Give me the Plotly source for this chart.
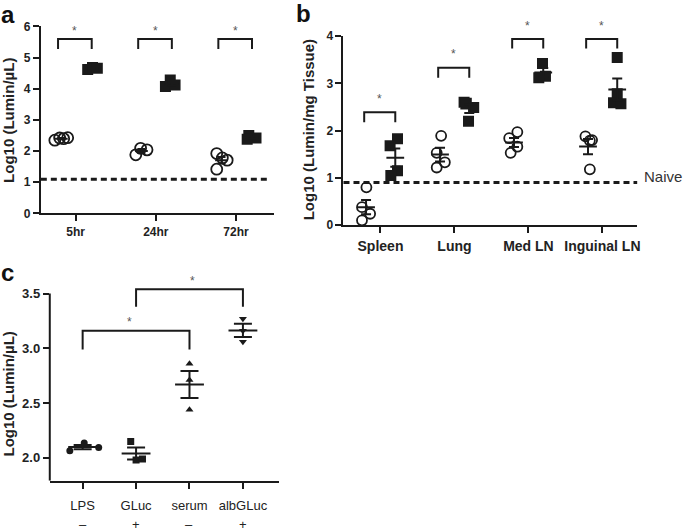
import numpy as np
import plotly.graph_objects as go

W, H = 685, 531
INK = "#1a1a1a"
FONT = "Liberation Sans"

# ---------------- data ----------------
# panel a
a_times = ["5hr", "24hr", "72hr"]
a_open = [[2.35, 2.42, 2.40, 2.43], [1.88, 2.09, 2.04], [1.42, 1.92, 1.78, 1.71]]
a_filled = [[4.62, 4.68, 4.66], [4.07, 4.28, 4.12], [2.50, 2.42, 2.38]]
a_naive = 1.1
a_yticks = [0, 1, 2, 3, 4, 5, 6]
a_br_bottom = [5.28, 5.28, 5.28]
a_br_top = [5.6, 5.6, 5.6]
a_star = [5.85, 5.85, 5.85]

# panel b
b_tissues = ["Spleen", "Lung", "Med LN", "Inguinal LN"]
b_open = [[0.80, 0.38, 0.24, 0.10], [1.89, 1.53, 1.33, 1.22],
          [1.97, 1.84, 1.66, 1.53], [1.88, 1.80, 1.79, 1.18]]
b_filled = [[1.83, 1.68, 1.15, 1.05], [2.60, 2.58, 2.49, 2.20],
            [3.42, 3.15, 3.12], [3.55, 2.78, 2.59, 2.57]]
b_naive = 0.9
b_yticks = [0, 1, 2, 3, 4]
b_br_bottom = [2.18, 3.12, 3.74, 3.74]
b_br_top = [2.39, 3.33, 3.94, 3.94]
b_star = [2.66, 3.62, 4.21, 4.21]

# panel c
c_labels = ["LPS", "GLuc", "serum", "albGLuc"]
c_signs = ["\u2013", "+", "\u2013", "+"]
c_vals = [[2.065, 2.135, 2.095], [2.15, 1.98, 1.99],
          [2.86, 2.71, 2.44], [3.27, 3.16, 3.06]]
c_yticks = [2.0, 2.5, 3.0, 3.5]
c_brackets = [(0, 2, 2.99, 3.16), (1, 3, 3.38, 3.54)]  # from, to, bottom, top
c_star = [(0.875, 3.24), (2.05, 3.61)]

# ---------------- style (positions) ----------------
a_open_jit = [[-0.26, -0.20, -0.15, -0.10], [-0.25, -0.19, -0.11], [-0.24, -0.24, -0.17, -0.11]]
a_filled_jit = [[0.15, 0.21, 0.27], [0.12, 0.18, 0.24], [0.16, 0.25, 0.14]]
b_open_jit = [[-0.19, -0.25, -0.14, -0.25], [-0.18, -0.24, -0.13, -0.24],
              [-0.15, -0.26, -0.15, -0.24], [-0.23, -0.14, -0.17, -0.17]]
b_filled_jit = [[0.23, 0.13, 0.23, 0.14], [0.13, 0.16, 0.26, 0.19],
                [0.19, 0.23, 0.14], [0.20, 0.20, 0.15, 0.25]]
c_jit = [[-0.24, 0.03, 0.30], [-0.10, 0.0, 0.12], [0, 0, 0], [0, 0, 0]]
c_symbols = ["circle", "square", "triangle-up", "triangle-down"]

DOM = {
    "": dict(xd=[41 / W, 275 / W], yd=[319 / H, 511 / H], xr=[-0.435, 2.472], yr=[0, 6]),
    "2": dict(xd=[345 / W, 640 / W], yd=[307 / H, 501 / H], xr=[-0.5, 3.47], yr=[0, 4]),
    "3": dict(xd=[50 / W, 280 / W], yd=[(H - 486.5) / H, (H - 280.8) / H], xr=[-0.615, 3.671],
              yr=[1.792, 3.62]),
}


def ypaper(ax, v):
    d = DOM[ax]
    return d["yd"][0] + (v - d["yr"][0]) / (d["yr"][1] - d["yr"][0]) * (d["yd"][1] - d["yd"][0])


fig = go.Figure()


def add_points(xs, ys, ax, symbol, size, filled):
    if filled:
        marker = dict(symbol=symbol, size=size, color=INK, line=dict(width=0))
    else:
        marker = dict(symbol=symbol + "-open", size=size, color=INK, line=dict(width=1.8, color=INK))
    fig.add_trace(go.Scatter(x=xs, y=ys, mode="markers", marker=marker,
                             xaxis="x" + ax, yaxis="y" + ax, showlegend=False, hoverinfo="skip"))


def add_mean(cx, vals, ax, half, cap):
    v = np.array(vals)
    m = v.mean()
    sem = v.std(ddof=1) / np.sqrt(len(v))
    fig.add_trace(go.Scatter(x=[cx - half, cx + half], y=[m, m], mode="lines",
                             line=dict(color=INK, width=2), xaxis="x" + ax, yaxis="y" + ax,
                             showlegend=False, hoverinfo="skip"))
    fig.add_trace(go.Scatter(x=[cx], y=[m], mode="markers",
                             marker=dict(size=1, color="rgba(0,0,0,0)"),
                             error_y=dict(type="data", array=[sem], visible=True, color=INK,
                                          thickness=2, width=cap),
                             xaxis="x" + ax, yaxis="y" + ax, showlegend=False, hoverinfo="skip"))


shapes = []
annotations = []


def bracket(ax, x0, x1, yb, yt):
    shapes.append(dict(type="path", xref="x" + ax, yref="y" + ax,
                       path=f"M {x0},{yb} L {x0},{yt} L {x1},{yt} L {x1},{yb}",
                       line=dict(color=INK, width=2)))


def star(ax, x, y):
    annotations.append(dict(text="*", x=x, y=ypaper(ax, y), xref="x" + ax, yref="paper",
                            showarrow=False, font=dict(family=FONT, size=12, color="#555"),
                            xanchor="center", yanchor="middle"))


# ---- panel a ----
for i in range(len(a_times)):
    add_points([i + j for j in a_open_jit[i]], a_open[i], "", "circle", 11, False)
    add_points([i + j for j in a_filled_jit[i]], a_filled[i], "", "square", 11, True)
for i in range(len(a_times)):
    add_mean(i - 0.18, a_open[i], "", 0.08, 4)
    add_mean(i + 0.2, a_filled[i], "", 0.08, 4)
    bracket("", i - 0.22, i + 0.2, a_br_bottom[i], a_br_top[i])
    star("", i - 0.01, a_star[i])
shapes.append(dict(type="line", xref="x domain", yref="y", x0=0.0, x1=0.97, y0=a_naive, y1=a_naive,
                   line=dict(color=INK, width=3, dash="6px,4px")))

# ---- panel b ----
for i in range(len(b_tissues)):
    add_points([i + j for j in b_open_jit[i]], b_open[i], "2", "circle", 10, False)
    add_points([i + j for j in b_filled_jit[i]], b_filled[i], "2", "square", 11, True)
for i in range(len(b_tissues)):
    add_mean(i - 0.195, b_open[i], "2", 0.12, 5)
    add_mean(i + 0.2, b_filled[i], "2", 0.12, 5)
    bracket("2", i - 0.22, i + 0.2, b_br_bottom[i], b_br_top[i])
    star("2", i - 0.01, b_star[i])
shapes.append(dict(type="line", xref="x2 domain", yref="y2", x0=0.0, x1=1.0, y0=b_naive, y1=b_naive,
                   line=dict(color=INK, width=3, dash="6px,4px")))
annotations.append(dict(text="Naive", x=645 / W, xref="paper", y=ypaper("2", 1.03), yref="paper",
                        showarrow=False, xanchor="left", yanchor="middle",
                        font=dict(family=FONT, size=15, color="#333")))

# ---- panel c ----
for i in range(len(c_labels)):
    add_points([i + j for j in c_jit[i]], c_vals[i], "3", c_symbols[i], 7, True)
for i in range(len(c_labels)):
    add_mean(i, c_vals[i], "3", 0.27, 9)
for (f, t, yb, yt) in c_brackets:
    bracket("3", f, t, yb, yt)
for (x, y) in c_star:
    star("3", x, y)
# y axis line of panel c (stops at 3.5)
shapes.append(dict(type="line", xref="x3 domain", yref="y3", x0=0, x1=0, y0=1.792, y1=3.5,
                   line=dict(color=INK, width=2)))
for i, s in enumerate(c_signs):
    annotations.append(dict(text=s, x=i, xref="x3", y=1 - 522 / H, yref="paper", showarrow=False,
                            xanchor="center", yanchor="top",
                            font=dict(family=FONT, size=13, color="#222")))


# ---- titles / letters ----
def ytitle(text, xpx, ypx, size):
    annotations.append(dict(text=text, x=xpx / W, y=1 - ypx / H, xref="paper", yref="paper",
                            showarrow=False, textangle=-90, xanchor="center", yanchor="middle",
                            font=dict(family=FONT, size=size, color="#222", weight="bold")))


ytitle("Log10 (Lumin/\u00b5L)", 9, 116, 15)
ytitle("Log10 (Lumin/mg Tissue)", 310, 126, 15)
ytitle("Log10 (Lumin/\u00b5L)", 9, 397, 15)


def letter(t, xpx, ypx):
    annotations.append(dict(text=t, x=xpx / W, y=1 - ypx / H, xref="paper", yref="paper",
                            showarrow=False, xanchor="left", yanchor="middle",
                            font=dict(family=FONT, size=24, color="#111", weight="bold")))


letter("a", -1, 8)
letter("b", 295, 7)
letter("c", -1, 273)

axis_common = dict(showline=True, linecolor=INK, linewidth=2, ticks="outside", ticklen=6,
                   tickwidth=2, tickcolor=INK, showgrid=False, zeroline=False)

fig.update_layout(
    width=W, height=H, margin=dict(l=0, r=0, t=0, b=0),
    paper_bgcolor="white", plot_bgcolor="white", showlegend=False,
    xaxis=dict(domain=DOM[""]["xd"], anchor="y", range=DOM[""]["xr"],
               tickvals=list(range(len(a_times))), ticktext=a_times,
               tickfont=dict(family=FONT, size=12, color="#222", weight="bold"), **axis_common),
    yaxis=dict(domain=DOM[""]["yd"], anchor="x", range=DOM[""]["yr"], tickvals=a_yticks,
               tickfont=dict(family=FONT, size=12, color="#222", weight="bold"), **axis_common),
    xaxis2=dict(domain=DOM["2"]["xd"], anchor="y2", range=DOM["2"]["xr"],
                tickvals=list(range(len(b_tissues))), ticktext=b_tissues, ticklabelstandoff=1,
                tickfont=dict(family=FONT, size=14, color="#222", weight="bold"), **axis_common),
    yaxis2=dict(domain=DOM["2"]["yd"], anchor="x2", range=DOM["2"]["yr"], tickvals=b_yticks,
                tickfont=dict(family=FONT, size=12, color="#222", weight="bold"), **axis_common),
    xaxis3=dict(domain=DOM["3"]["xd"], anchor="y3", range=DOM["3"]["xr"],
                tickvals=list(range(len(c_labels))), ticktext=c_labels, ticklabelstandoff=6,
                tickfont=dict(family=FONT, size=13, color="#222"), **axis_common),
    yaxis3=dict(domain=DOM["3"]["yd"], anchor="x3", range=DOM["3"]["yr"],
                tickvals=c_yticks, ticktext=[f"{v:.1f}" for v in c_yticks],
                tickfont=dict(family=FONT, size=13, color="#222", weight="bold"),
                **{**axis_common, "showline": False}),
    shapes=shapes, annotations=annotations,
)

fig.write_html("out.html", config={"displayModeBar": False},
               post_script="document.body.style.margin='0';document.body.style.padding='0';")
